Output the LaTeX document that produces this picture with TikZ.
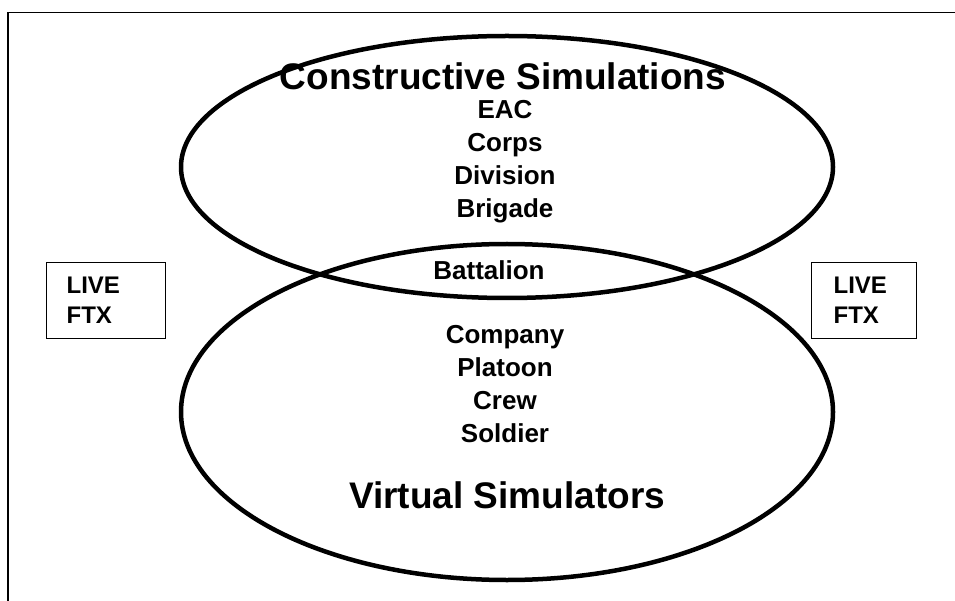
\documentclass[tikz,border=0pt]{standalone}
\usepackage{fontspec}
\setmainfont{Liberation Sans}
\usetikzlibrary{shapes.geometric, positioning}

\begin{document}
\begin{tikzpicture}[
	x=1pt, y=-1pt, on grid, node distance=33pt,
	venn/.style={draw, ellipse, line width=4.5pt, inner sep=0pt},
	heading/.style={font=\bfseries\fontsize{37}{40}\selectfont, inner sep=0pt},
	level/.style={font=\bfseries\fontsize{26}{30}\selectfont, text height=19pt, text depth=6pt, inner sep=0pt},
	livebox/.style={draw, line width=1.2pt, anchor=north west, minimum height=76pt, align=left,
		font=\bfseries\fontsize{24}{30}\selectfont, inner ysep=0pt}
	]
	\useasboundingbox (0,0) rectangle (955,601);
	\draw[line width=1.3pt] (8,601) -- (8,12.5) -- (955,12.5);
	% the two circles
	\node[venn, minimum width=652pt, minimum height=262pt] (constr) at (507,167) {};
	\node[venn, minimum width=652pt, minimum height=336pt] (virt) at (507,412) {};
	\node[heading, anchor=base] (ctitle) at (503,90) {Constructive Simulations};
	\node[level, anchor=base] (eac) at (505,119) {EAC};
	\node[level, below=of eac] (corps) {Corps};
	\node[level, below=of corps] (division) {Division};
	\node[level, below=of division] (brigade) {Brigade};
	\node[level, anchor=base] (battalion) at (489,280) {Battalion};
	\node[level, anchor=base] (company) at (505,343) {Company};
	\node[level, below=of company] (platoon) {Platoon};
	\node[level, below=of platoon] (crew) {Crew};
	\node[level, below=of crew] (soldier) {Soldier};
	\node[heading, anchor=base] (vtitle) at (507,508) {Virtual Simulators};
	% live exercises on both sides
	\node[livebox, minimum width=119pt, text width=79pt, inner xsep=20pt] (liveL) at (46,262) {LIVE\\FTX};
	\node[livebox, minimum width=105pt, text width=61pt, inner xsep=22pt] (liveR) at (811,262) {LIVE\\FTX};
\end{tikzpicture}
\end{document}
